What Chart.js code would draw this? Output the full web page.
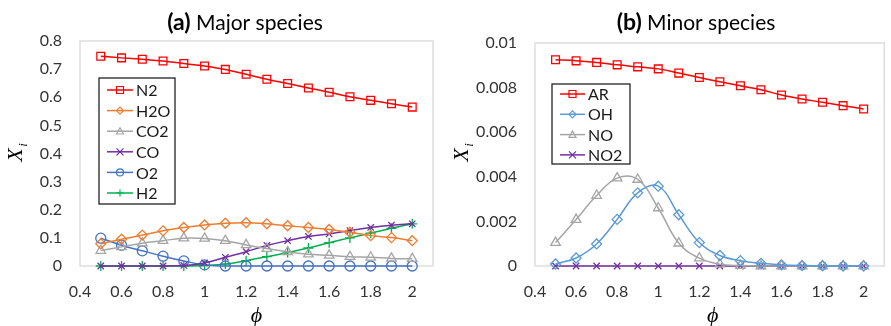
<!DOCTYPE html>
<html>
<head>
<meta charset="utf-8">
<script src="https://cdn.jsdelivr.net/npm/chart.js@4/dist/chart.umd.min.js"></script>
<style>
  html, body { margin: 0; padding: 0; background: #ffffff; }
  #wrap { position: relative; width: 891px; height: 326px; overflow: hidden; }
  .pane { position: absolute; top: 0; height: 326px; }
  #paneA { left: 0; width: 445px; }
  #paneB { left: 445px; width: 446px; }
</style>
</head>
<body>
<div id="wrap">
  <div class="pane" id="paneA"><canvas id="chartA"></canvas></div>
  <div class="pane" id="paneB"><canvas id="chartB"></canvas></div>
</div>
<script>
// Equivalence ratio
const phi = [0.5, 0.6, 0.7, 0.8, 0.9, 1.0, 1.1, 1.2, 1.3, 1.4, 1.5, 1.6, 1.7, 1.8, 1.9, 2.0];

// Major species mole fractions
const n2  = [0.746, 0.740, 0.735, 0.729, 0.720, 0.711, 0.699, 0.682, 0.664, 0.649, 0.633, 0.618, 0.602, 0.589, 0.577, 0.565];
const h2o = [0.079, 0.095, 0.110, 0.125, 0.137, 0.146, 0.152, 0.154, 0.150, 0.143, 0.137, 0.130, 0.120, 0.108, 0.101, 0.090];
const co2 = [0.055, 0.068, 0.081, 0.090, 0.099, 0.098, 0.090, 0.075, 0.062, 0.050, 0.042, 0.038, 0.033, 0.031, 0.027, 0.026];
const co  = [0, 0, 0, 0, 0.002, 0.011, 0.031, 0.051, 0.073, 0.090, 0.105, 0.114, 0.126, 0.137, 0.145, 0.150];
const o2  = [0.099, 0.074, 0.054, 0.035, 0.018, 0.004, 0, 0, 0, 0, 0, 0, 0, 0, 0, 0];
const h2  = [0, 0, 0, 0, 0, 0.002, 0.007, 0.019, 0.033, 0.048, 0.064, 0.083, 0.100, 0.117, 0.134, 0.150];

// Minor species mole fractions
const ar  = [0.00925, 0.00920, 0.00913, 0.00902, 0.00893, 0.00884, 0.00865, 0.00845, 0.00826, 0.00808, 0.00790, 0.00767, 0.00749, 0.00734, 0.00719, 0.00704];
const oh  = [0.00009, 0.00036, 0.00099, 0.00209, 0.00328, 0.00358, 0.00230, 0.00105, 0.00047, 0.00024, 0.00012, 0.00005, 0.00002, 0.00001, 0, 0];
const no  = [0.00105, 0.00208, 0.00316, 0.00394, 0.00388, 0.00260, 0.00102, 0.00035, 0.00008, 0.00002, 0, 0, 0, 0, 0, 0];
const no2 = [0, 0, 0, 0, 0, 0, 0, 0, 0, 0, 0, 0, 0, 0, 0, 0];

// Tick labels
const xTicks = [0.4, 0.6, 0.8, 1, 1.2, 1.4, 1.6, 1.8, 2];
const yTicksMajor = ["0", "0.1", "0.2", "0.3", "0.4", "0.5", "0.6", "0.7", "0.8"];
const yTicksMinor = ["0", "0.002", "0.004", "0.006", "0.008", "0.01"];

const FONT = "Lato, 'Open Sans', sans-serif";
const TEXT = '#333333';
const FRAME = '#D9D9D9';

function pts(ys) { return phi.map((x, i) => ({ x: x, y: ys[i] })); }

function series(label, ys, color, style, radius) {
  return {
    label: label,
    data: pts(ys),
    showLine: true,
    tension: 0.4,
    clip: false,
    borderColor: color,
    borderWidth: 1.5,
    pointStyle: style,
    pointRadius: radius,
    pointHoverRadius: radius,
    pointBorderColor: color,
    pointBackgroundColor: 'rgba(0,0,0,0)',
    pointBorderWidth: 1.3
  };
}

// Marker drawn in the legend box
function marker(ctx, style, x, y, r, color) {
  ctx.save();
  ctx.strokeStyle = color;
  ctx.lineWidth = 1.2;
  ctx.beginPath();
  if (style === 'rect') {
    ctx.rect(x - r, y - r, 2 * r, 2 * r);
  } else if (style === 'rectRot') {
    ctx.moveTo(x - r, y); ctx.lineTo(x, y - r); ctx.lineTo(x + r, y); ctx.lineTo(x, y + r); ctx.closePath();
  } else if (style === 'triangle') {
    ctx.moveTo(x, y - r); ctx.lineTo(x + r, y + r * 0.8); ctx.lineTo(x - r, y + r * 0.8); ctx.closePath();
  } else if (style === 'circle') {
    ctx.arc(x, y, r, 0, Math.PI * 2);
  } else if (style === 'crossRot') {
    ctx.moveTo(x - r, y - r); ctx.lineTo(x + r, y + r); ctx.moveTo(x + r, y - r); ctx.lineTo(x - r, y + r);
  } else if (style === 'cross') {
    ctx.moveTo(x - r, y); ctx.lineTo(x + r, y); ctx.moveTo(x, y - r); ctx.lineTo(x, y + r);
  }
  ctx.stroke();
  ctx.restore();
}

// Plot-area frame, drawn beneath the series
const frame = {
  id: 'frame',
  beforeDatasetsDraw(chart) {
    const ctx = chart.ctx;
    const a = chart.chartArea;
    ctx.save();
    ctx.strokeStyle = FRAME;
    ctx.lineWidth = 1.3;
    ctx.strokeRect(a.left, a.top, a.right - a.left, a.bottom - a.top);
    ctx.restore();
  }
};

// Boxed legend, panel title and axis titles
const decor = {
  id: 'decor',
  afterDraw(chart, args, o) {
    const ctx = chart.ctx;
    const a = chart.chartArea;
    ctx.save();

    // legend
    const L = o.legend;
    ctx.fillStyle = '#ffffff';
    ctx.fillRect(L.x, L.y, L.w, L.h);
    ctx.strokeStyle = '#222222';
    ctx.lineWidth = 1.3;
    ctx.strokeRect(L.x, L.y, L.w, L.h);
    chart.data.datasets.forEach((ds, i) => {
      const yy = L.y + L.first + i * L.step;
      ctx.strokeStyle = ds.borderColor;
      ctx.lineWidth = 1.5;
      ctx.beginPath();
      ctx.moveTo(L.x + L.lineFrom, yy);
      ctx.lineTo(L.x + L.lineTo, yy);
      ctx.stroke();
      marker(ctx, ds.pointStyle, L.x + (L.lineFrom + L.lineTo) / 2, yy, 3.5, ds.borderColor);
      ctx.fillStyle = '#1a1a1a';
      ctx.font = '16px ' + FONT;
      ctx.textBaseline = 'middle';
      ctx.textAlign = 'left';
      ctx.fillText(ds.label, L.x + L.text, yy + 1);
    });

    // title: bold tag followed by regular text
    ctx.fillStyle = '#000000';
    ctx.textBaseline = 'alphabetic';
    ctx.textAlign = 'left';
    const boldFont = 'bold 23px ' + FONT;
    const normFont = '21px ' + FONT;
    ctx.font = boldFont;
    const w1 = ctx.measureText(o.tag).width;
    ctx.font = normFont;
    const w2 = ctx.measureText(' ' + o.title).width;
    let tx = o.titleX - (w1 + w2) / 2;
    ctx.font = boldFont;
    ctx.fillText(o.tag, tx, 30);
    ctx.font = normFont;
    ctx.fillText(' ' + o.title, tx + w1, 30);

    // y-axis title X_i
    ctx.save();
    ctx.translate(o.yTitleX, 152);
    ctx.rotate(-Math.PI / 2);
    ctx.textAlign = 'center';
    ctx.font = 'italic 22px "Liberation Serif", "DejaVu Serif", serif';
    ctx.fillStyle = '#000000';
    ctx.fillText('X', -3, 0);
    ctx.font = 'italic 13px "Liberation Serif", "DejaVu Serif", serif';
    ctx.fillText('i', 7, 5);
    ctx.restore();

    // x-axis title phi
    ctx.font = 'italic 22px "Liberation Serif", "DejaVu Serif", serif';
    ctx.textAlign = 'center';
    ctx.fillStyle = '#000000';
    ctx.fillText('\u03D5', (a.left + a.right) / 2 + o.xTitleShift, 322);

    ctx.restore();
  }
};

function makeChart(id, datasets, yMax, yLabels, yWidth, padTop, padRight, deco) {
  const yStep = yMax / (yLabels.length - 1);
  return new Chart(document.getElementById(id), {
    type: 'scatter',
    data: { datasets: datasets },
    plugins: [frame, decor],
    options: {
      responsive: true,
      maintainAspectRatio: false,
      animation: false,
      events: [],
      layout: { padding: { top: padTop, right: padRight, left: 0, bottom: 0 } },
      plugins: {
        legend: { display: false },
        tooltip: { enabled: false },
        decor: deco
      },
      scales: {
        x: {
          type: 'linear',
          min: 0.4,
          max: 2.1,
          grid: { display: false },
          border: { display: false },
          afterBuildTicks(s) { s.ticks = xTicks.map(v => ({ value: v })); },
          afterFit(s) { s.height = 60; },
          ticks: {
            font: { family: FONT, size: 16 },
            color: TEXT,
            padding: 8,
            maxRotation: 0,
            callback: v => String(v)
          }
        },
        y: {
          type: 'linear',
          min: 0,
          max: yMax,
          grid: { display: false },
          border: { display: false },
          afterBuildTicks(s) { s.ticks = yLabels.map((t, i) => ({ value: i * yStep })); },
          afterFit(s) { s.width = yWidth; },
          ticks: {
            font: { family: FONT, size: 16 },
            color: TEXT,
            padding: 10,
            callback: (v, i) => yLabels[i]
          }
        }
      }
    }
  });
}

makeChart('chartA', [
  series('N2',  n2,  '#FF0000', 'rect', 5.5),
  series('H2O', h2o, '#ED7D31', 'rectRot', 5),
  series('CO2', co2, '#A5A5A5', 'triangle', 5.5),
  series('CO',  co,  '#7030A0', 'crossRot', 4.5),
  series('O2',  o2,  '#4472C4', 'circle', 5),
  series('H2',  h2,  '#00B050', 'cross', 5)
], 0.8, yTicksMajor, 80, 41, 12, {
  tag: '(a)', title: 'Major species', titleX: 245,
  yTitleX: 22, xTitleShift: 0,
  legend: { x: 99, y: 78, w: 76, h: 126, first: 12, step: 20.6, lineFrom: 8, lineTo: 34, text: 37 }
});

makeChart('chartB', [
  series('AR',  ar,  '#FF0000', 'rect', 5.5),
  series('OH',  oh,  '#5B9BD5', 'rectRot', 5),
  series('NO',  no,  '#A5A5A5', 'triangle', 5.5),
  series('NO2', no2, '#7030A0', 'crossRot', 4.5)
], 0.01, yTicksMinor, 90, 43, 1, {
  tag: '(b)', title: 'Minor species', titleX: 251,
  yTitleX: 23, xTitleShift: 3,
  legend: { x: 107, y: 84, w: 78, h: 80, first: 10, step: 20.3, lineFrom: 8, lineTo: 33, text: 36 }
});
</script>
</body>
</html>
